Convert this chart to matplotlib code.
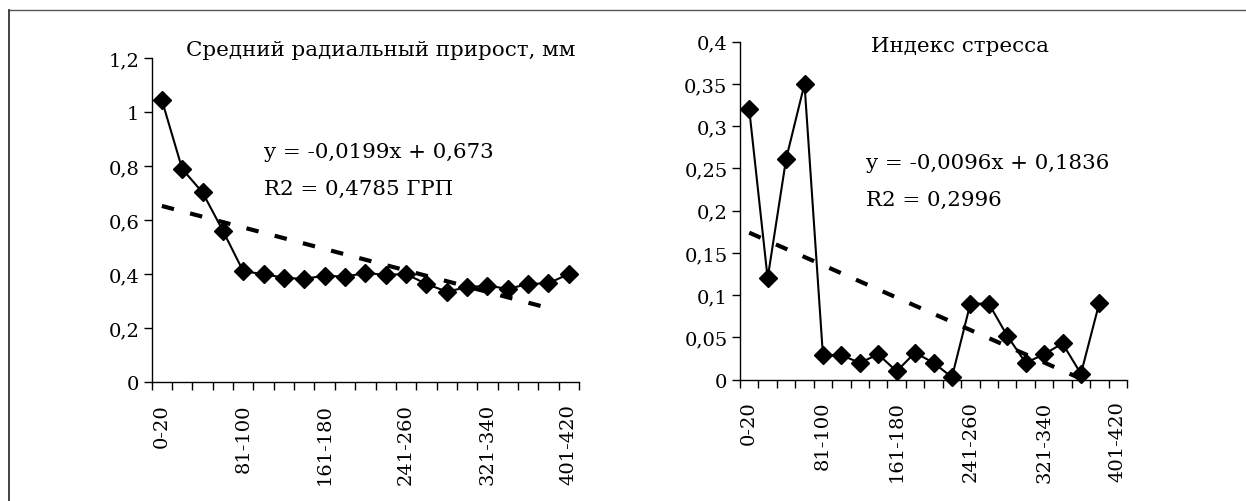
import matplotlib
matplotlib.use("Agg")
import matplotlib.pyplot as plt
from matplotlib.lines import Line2D
import numpy as np

plt.rcParams['font.family'] = ['DejaVu Serif']

categories = ["0-20", "21-40", "41-60", "61-80", "81-100", "101-120", "121-140",
              "141-160", "161-180", "181-200", "201-220", "221-240", "241-260",
              "261-280", "281-300", "301-320", "321-340", "341-360", "361-380",
              "381-400", "401-420"]

growth = [1.045, 0.790, 0.703, 0.561, 0.411, 0.401, 0.387, 0.383, 0.395, 0.391,
          0.405, 0.398, 0.401, 0.364, 0.336, 0.352, 0.358, 0.346, 0.364, 0.367, 0.401]

stress = [0.320, 0.120, 0.261, 0.350, 0.029, 0.029, 0.020, 0.030, 0.010, 0.032,
          0.020, 0.003, 0.090, 0.090, 0.052, 0.020, 0.030, 0.043, 0.007, 0.091, np.nan]

growth_trend = (-0.0199, 0.673)
stress_trend = (-0.0096, 0.1836)
trend_range = (1, 20.3)

title_growth = "Средний радиальный прирост, мм"
title_stress = "Индекс стресса"
eq_growth = ["y = -0,0199x + 0,673", "R2 = 0,4785 ГРП"]
eq_stress = ["y = -0,0096x + 0,1836", "R2 = 0,2996"]

growth_ticks = [0, 0.2, 0.4, 0.6, 0.8, 1.0, 1.2]
growth_ticklabels = ["0", "0,2", "0,4", "0,6", "0,8", "1", "1,2"]
stress_ticks = [0, 0.05, 0.1, 0.15, 0.2, 0.25, 0.3, 0.35, 0.4]
stress_ticklabels = ["0", "0,05", "0,1", "0,15", "0,2", "0,25", "0,3", "0,35", "0,4"]

W, H = 1246, 502
fig = plt.figure(figsize=(W / 100, H / 100), dpi=100)


def fx(px):
    return px / W


def fy(py):
    return 1 - py / H


def make_axes(rect_px, values, trend, yticks, yticklabels, ymax):
    l, t, r, b = rect_px
    ax = fig.add_axes([fx(l), fy(b), fx(r) - fx(l), fy(t) - fy(b)])
    x = np.arange(len(categories))
    ax.plot(x, values, color='black', lw=1.5, marker='D', markersize=9,
            markerfacecolor='black', markeredgecolor='black', zorder=3,
            clip_on=False)
    tx = np.linspace(trend_range[0], trend_range[1], 50)
    ty = trend[0] * tx + trend[1]
    ax.plot(tx - 1, ty, color='black', lw=3.0, dashes=(3.0, 4.0),
            dash_capstyle='butt', zorder=2)
    ax.set_xlim(-0.5, len(categories) - 0.5)
    ax.set_ylim(0, ymax)
    ax.set_yticks(yticks)
    ax.set_yticklabels(yticklabels, fontsize=14)
    ax.set_xticks(x[::4])
    ax.set_xticklabels(categories[::4], rotation=90, fontsize=14)
    ax.set_xticks(np.arange(-0.5, len(categories)), minor=True)
    ax.tick_params(axis='x', which='major', length=0, pad=15)
    ax.tick_params(axis='x', which='minor', length=6, width=1, direction='out')
    ax.tick_params(axis='y', length=6, width=1, direction='out', pad=3)
    for s in ['top', 'right']:
        ax.spines[s].set_visible(False)
    for s in ['left', 'bottom']:
        ax.spines[s].set_linewidth(1)
    ax.patch.set_alpha(0)
    return ax


ax1 = make_axes((151.7, 59.3, 579, 383.3), growth, growth_trend,
                growth_ticks, growth_ticklabels, 1.2)
ax2 = make_axes((740, 42.7, 1127, 380.7), stress, stress_trend,
                stress_ticks, stress_ticklabels, 0.4)

fs = 15.4
fig.text(fx(381), fy(50), title_growth, fontsize=fs, ha='center', va='center')
fig.text(fx(960), fy(47), title_stress, fontsize=fs, ha='center', va='center')

fig.text(fx(264), fy(153), eq_growth[0], fontsize=fs, ha='left', va='center')
fig.text(fx(264), fy(189), eq_growth[1], fontsize=fs, ha='left', va='center')
fig.text(fx(866), fy(164), eq_stress[0], fontsize=fs, ha='left', va='center')
fig.text(fx(866), fy(200), eq_stress[1], fontsize=fs, ha='left', va='center')

fig.add_artist(Line2D([fx(9), 1], [fy(10.7), fy(10.7)], color='#555555', lw=1.0,
                      transform=fig.transFigure))
fig.add_artist(Line2D([fx(9), fx(9)], [fy(10.7), 0], color='#222222', lw=1.2,
                      transform=fig.transFigure))

fig.savefig("out.png", dpi=100)
